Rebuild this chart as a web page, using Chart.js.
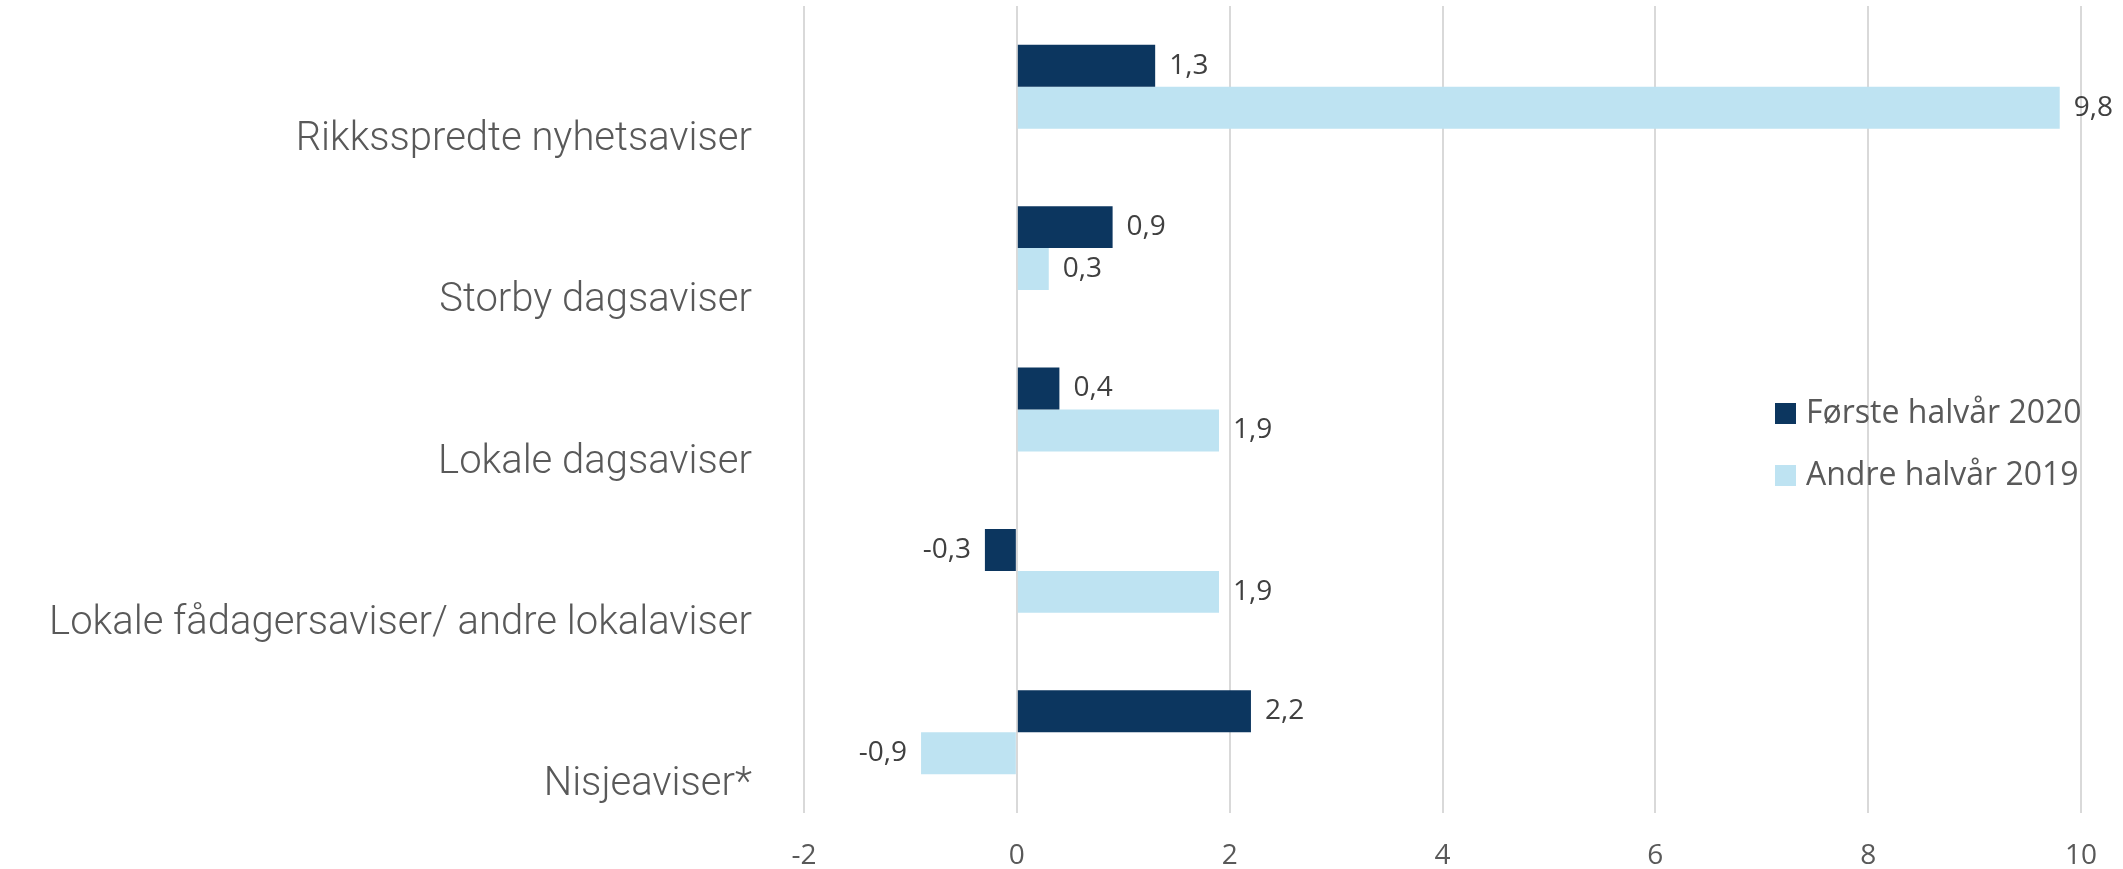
<!DOCTYPE html>
<html>
<head>
<meta charset="utf-8">
<script src="https://cdn.jsdelivr.net/npm/chart.js@4"></script>
<style>
  html, body { margin: 0; padding: 0; background: #fff; }
  #wrap { width: 2123px; height: 869px; position: relative; }
</style>
</head>
<body>
<div id="wrap"><canvas id="chart"></canvas></div>
<script>
// --- data ---
const categories = [
    'Rikksspredte nyhetsaviser',
    'Storby dagsaviser',
    'Lokale dagsaviser',
    'Lokale fådagersaviser/ andre lokalaviser',
    'Nisjeaviser*'
];
const seriesNames = ['Første halvår 2020', 'Andre halvår 2019'];
const first2020 = [1.3, 0.9, 0.4, -0.3, 2.2];
const second2019 = [9.8, 0.3, 1.9, 1.9, -0.9];
const xTicks = [-2, 0, 2, 4, 6, 8, 10];

const colors = ['#0c365f', '#bee3f2'];

// value labels next to each bar (comma decimals)
const valueLabels = {
    id: 'valueLabels',
    afterDatasetsDraw(chart) {
        const ctx = chart.ctx;
        ctx.save();
        ctx.font = '28px "Open Sans"';
        ctx.fillStyle = '#404040';
        ctx.textBaseline = 'middle';
        chart.data.datasets.forEach((ds, i) => {
            chart.getDatasetMeta(i).data.forEach((bar, j) => {
                const v = ds.data[j];
                const txt = v.toFixed(1).replace('.', ',');
                if (v < 0) {
                    ctx.textAlign = 'right';
                    ctx.fillText(txt, bar.x - 14, bar.y);
                } else {
                    ctx.textAlign = 'left';
                    ctx.fillText(txt, bar.x + 14, bar.y);
                }
            });
        });
        ctx.restore();
    }
};

// legend sits inside the plot, right side
const innerLegend = {
    id: 'innerLegend',
    afterDraw(chart) {
        const ctx = chart.ctx;
        ctx.save();
        ctx.font = '32px "Open Sans"';
        ctx.textBaseline = 'middle';
        ctx.textAlign = 'left';
        chart.data.datasets.forEach((ds, i) => {
            const y = 414 + i * 62;
            ctx.fillStyle = ds.backgroundColor;
            ctx.fillRect(1775, y - 11, 21, 21);
            ctx.fillStyle = '#595959';
            ctx.fillText(ds.label, 1806, y);
        });
        ctx.restore();
    }
};

new Chart(document.getElementById('chart'), {
    type: 'bar',
    data: {
        labels: categories,
        datasets: [
            { label: seriesNames[0], data: first2020, backgroundColor: colors[0] },
            { label: seriesNames[1], data: second2019, backgroundColor: colors[1] }
        ]
    },
    options: {
        indexAxis: 'y',
        responsive: true,
        maintainAspectRatio: false,
        animation: false,
        layout: { padding: { top: 6, left: 0, right: 0, bottom: 0 } },
        datasets: { bar: { categoryPercentage: 0.52, barPercentage: 1.0 } },
        scales: {
            x: {
                min: -2,
                max: 10,
                afterBuildTicks(scale) { scale.ticks = xTicks.map(v => ({ value: v })); },
                afterFit(scale) {
                    scale.height = 56;
                    scale.paddingLeft = 0;
                    scale.paddingRight = 42;
                },
                grid: { color: '#d9d9d9', lineWidth: 2, drawTicks: false },
                border: { display: false },
                ticks: {
                    color: '#595959',
                    font: { family: 'Open Sans', size: 28 },
                    padding: 26
                }
            },
            y: {
                afterFit(scale) {
                    scale.width = 804;
                    scale.paddingTop = 0;
                    scale.paddingBottom = 0;
                },
                grid: { display: false },
                border: { display: false },
                ticks: {
                    color: '#595959',
                    font: { family: 'Roboto', size: 40, weight: 300 },
                    padding: 44,
                    labelOffset: 53
                }
            }
        },
        plugins: {
            legend: { display: false },
            tooltip: { enabled: false }
        }
    },
    plugins: [valueLabels, innerLegend]
});
</script>
</body>
</html>
